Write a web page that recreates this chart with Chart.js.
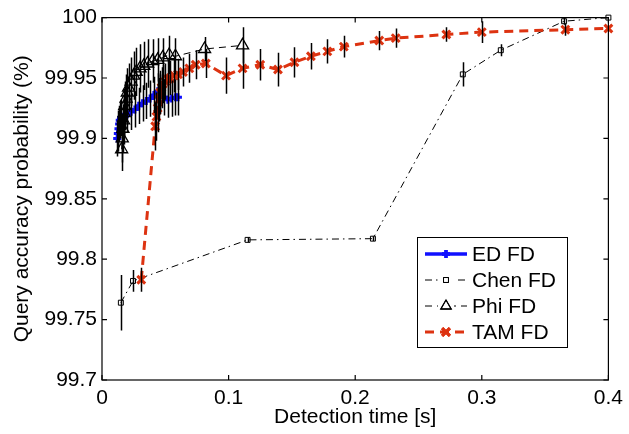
<!DOCTYPE html>
<html><head><meta charset="utf-8">
<script src="https://cdn.jsdelivr.net/npm/chart.js@4/dist/chart.umd.min.js"></script>
<style>html,body{margin:0;padding:0;background:#fff}#wrap{width:629px;height:434px}</style>
</head><body><div id="wrap"><canvas id="c" width="629" height="434"></canvas></div>
<script>
const xTickValues=[0,0.1,0.2,0.3,0.4];
const xTickLabels=["0","0.1","0.2","0.3","0.4"];
const yTickValues=[99.7,99.75,99.8,99.85,99.9,99.95,100];
const yTickLabels=["99.7","99.75","99.8","99.85","99.9","99.95","100"];
const seriesNames=["ED FD","Chen FD","Phi FD","TAM FD"];

const edX=[0.012,0.0125,0.013,0.0135,0.014,0.015,0.017,0.020,0.023,0.026,0.029,0.032,0.035,0.038,0.041,0.044,0.046,0.049,0.052,0.055,0.058,0.060];
const edY=[99.900,99.904,99.908,99.912,99.915,99.917,99.918,99.920,99.922,99.924,99.927,99.929,99.931,99.933,99.936,99.939,99.938,99.934,99.932,99.933,99.934,99.934];
const edErr=[0.015,0.015,0.015,0.015,0.015,0.015,0.015,0.015,0.015,0.015,0.015,0.015,0.015,0.015,0.015,0.015,0.015,0.015,0.015,0.015,0.015,0.015];

const chenX=[0.0149,0.0245,0.115,0.214,0.285,0.315,0.365,0.400];
const chenY=[99.764,99.782,99.816,99.817,99.953,99.973,99.997,100.0];
const chenErr=[0.023,0.009,0.002,0.002,0.010,0.005,0.003,0];

const phiX=[0.0155,0.016,0.0165,0.017,0.0175,0.018,0.019,0.020,0.021,0.023,0.025,0.027,0.030,0.033,0.036,0.040,0.044,0.048,0.053,0.058,0.081,0.111];
const phiY=[99.891,99.900,99.908,99.915,99.921,99.927,99.933,99.938,99.942,99.947,99.952,99.955,99.958,99.960,99.962,99.964,99.965,99.967,99.969,99.968,99.974,99.977];
const phiErr=[0.018,0.02,0.02,0.02,0.02,0.02,0.02,0.02,0.02,0.02,0.02,0.02,0.02,0.02,0.02,0.018,0.018,0.016,0.016,0.015,0.010,0.015];

const tamX=[0.031,0.042,0.043,0.044,0.045,0.046,0.047,0.048,0.050,0.052,0.054,0.057,0.060,0.064,0.069,0.074,0.082,0.098,0.111,0.125,0.139,0.152,0.165,0.178,0.191,0.219,0.232,0.272,0.300,0.366,0.400];
const tamY=[99.783,99.910,99.918,99.925,99.932,99.938,99.942,99.945,99.947,99.949,99.950,99.952,99.953,99.955,99.958,99.961,99.962,99.952,99.958,99.961,99.957,99.963,99.968,99.972,99.976,99.981,99.983,99.986,99.988,99.990,99.991];
const tamErr=[0.010,0.02,0.02,0.02,0.018,0.018,0.017,0.016,0.015,0.015,0.014,0.014,0.013,0.012,0.012,0.012,0.012,0.015,0.017,0.013,0.014,0.0125,0.011,0.010,0.009,0.008,0.008,0.006,0.009,0.005,0];

const pts=(xs,ys)=>xs.map((x,i)=>({x:x,y:ys[i]}));
const RED='#dd3311', BLUE='#1010ff';
const FONT='"Liberation Sans", Arial, sans-serif';

const styles=[
 {color:BLUE,width:3.5,dash:[],point:'cross',r:4,pw:3},
 {color:'#000',width:1,dash:[7,4,1.5,4],point:'rect',r:3.5,pw:1},
 {color:'#000',width:1,dash:[7,5],point:'triangle',r:7,pw:1.3},
 {color:RED,width:3,dash:[9,6],point:'crossRot',r:5.5,pw:3}
];
const errs=[edErr,chenErr,phiErr,tamErr];

function ds(i,data,order){
 const s=styles[i];
 return {label:seriesNames[i],data:data,borderColor:s.color,borderWidth:s.width,borderDash:s.dash,
  pointStyle:s.point,pointRadius:s.r,pointBorderColor:s.color,pointBackgroundColor:'rgba(0,0,0,0)',
  pointBorderWidth:s.pw,showLine:true,tension:0,fill:false,order:order,clip:6};
}

const CA={left:102,right:612,top:11,bottom:380};

const deco={
 id:'deco',
 afterDatasetsDraw(chart){
  const ctx=chart.ctx, xs=chart.scales.x, ys=chart.scales.y;
  ctx.save();
  ctx.beginPath();
  ctx.rect(chart.chartArea.left,chart.chartArea.top-2,chart.chartArea.right-chart.chartArea.left,chart.chartArea.bottom-chart.chartArea.top+4);
  ctx.clip();
  ctx.strokeStyle='#000';ctx.lineWidth=1.5;ctx.setLineDash([]);
  chart.data.datasets.forEach((d,i)=>{
   const e=errs[i];
   d.data.forEach((p,j)=>{
    if(!e[j])return;
    const px=Math.round(xs.getPixelForValue(p.x))+0.5;
    ctx.beginPath();
    ctx.moveTo(px,ys.getPixelForValue(p.y-e[j]));
    ctx.lineTo(px,ys.getPixelForValue(p.y+e[j]));
    ctx.stroke();
   });
  });
  ctx.restore();
 },
 afterDraw(chart){
  const ctx=chart.ctx, xs=chart.scales.x, ys=chart.scales.y, a=chart.chartArea;
  ctx.save();
  ctx.strokeStyle='#000';ctx.lineWidth=1.2;ctx.setLineDash([]);
  ctx.strokeRect(a.left,a.top,a.right-a.left,a.bottom-a.top);
  const tl=5;
  ctx.beginPath();
  xTickValues.forEach(v=>{const px=xs.getPixelForValue(v);
   ctx.moveTo(px,a.bottom);ctx.lineTo(px,a.bottom-tl);ctx.moveTo(px,a.top);ctx.lineTo(px,a.top+tl);});
  yTickValues.forEach(v=>{const py=ys.getPixelForValue(v);
   ctx.moveTo(a.left,py);ctx.lineTo(a.left+tl,py);ctx.moveTo(a.right,py);ctx.lineTo(a.right-tl,py);});
  ctx.stroke();
  // legend
  const L={x:417,y:237,w:150,h:110};
  ctx.fillStyle='#fff';ctx.fillRect(L.x,L.y,L.w,L.h);
  ctx.lineWidth=1;ctx.strokeRect(L.x+0.5,L.y+0.5,L.w,L.h);
  const rows=[254,280,306,332];
  ctx.font='21px '+FONT;ctx.textBaseline='middle';ctx.textAlign='left';
  rows.forEach((ry,i)=>{
   const s=styles[i];
   ctx.strokeStyle=s.color;ctx.lineWidth=s.width;ctx.setLineDash(s.dash);
   ctx.beginPath();ctx.moveTo(425,ry);ctx.lineTo(467,ry);ctx.stroke();
   ctx.setLineDash([]);
   if(i===1||i===2){ctx.fillStyle='#fff';ctx.fillRect(438,ry-8,16,16);}
   Chart.helpers.drawPoint(ctx,{pointStyle:s.point,radius:(i===2?6:s.r),borderWidth:s.pw,rotation:0},446,ry);
   ctx.strokeStyle=s.color;ctx.lineWidth=s.pw;ctx.stroke();
   ctx.fillStyle='#000';
   ctx.fillText(seriesNames[i],472,ry+1);
  });
  ctx.restore();
 }
};

new Chart(document.getElementById('c'),{
 type:'scatter',
 data:{datasets:[ds(0,pts(edX,edY),3),ds(1,pts(chenX,chenY),2),ds(2,pts(phiX,phiY),1),ds(3,pts(tamX,tamY),0)]},
 options:{
  responsive:false,animation:false,devicePixelRatio:1,
  layout:{padding:{left:0,right:629-CA.right,top:CA.top,bottom:0}},
  plugins:{legend:{display:false},tooltip:{enabled:false}},
  scales:{
   x:{type:'linear',min:0,max:0.4,
    afterBuildTicks:s=>{s.ticks=xTickValues.map(v=>({value:v}));},
    afterFit:s=>{s.height=434-CA.bottom;},
    grid:{display:false,drawTicks:false},border:{display:false},
    ticks:{padding:6,color:'#000',font:{family:FONT,size:21},maxRotation:0,
     callback:(v,i)=>xTickLabels[i]},
    title:{display:true,text:'Detection time [s]',color:'#000',font:{family:FONT,size:21},padding:{top:0,bottom:4}}
   },
   y:{type:'linear',min:99.7,max:100,
    afterBuildTicks:s=>{s.ticks=yTickValues.map(v=>({value:v}));},
    afterFit:s=>{s.width=CA.left;},
    grid:{display:false,drawTicks:false},border:{display:false},
    ticks:{padding:5,color:'#000',font:{family:FONT,size:21},
     callback:(v,i)=>yTickLabels[i]},
    title:{display:true,text:'Query accuracy probability (%)',color:'#000',font:{family:FONT,size:21},padding:{top:10,bottom:0}}
   }
  }
 },
 plugins:[deco]
});
</script></body></html>
